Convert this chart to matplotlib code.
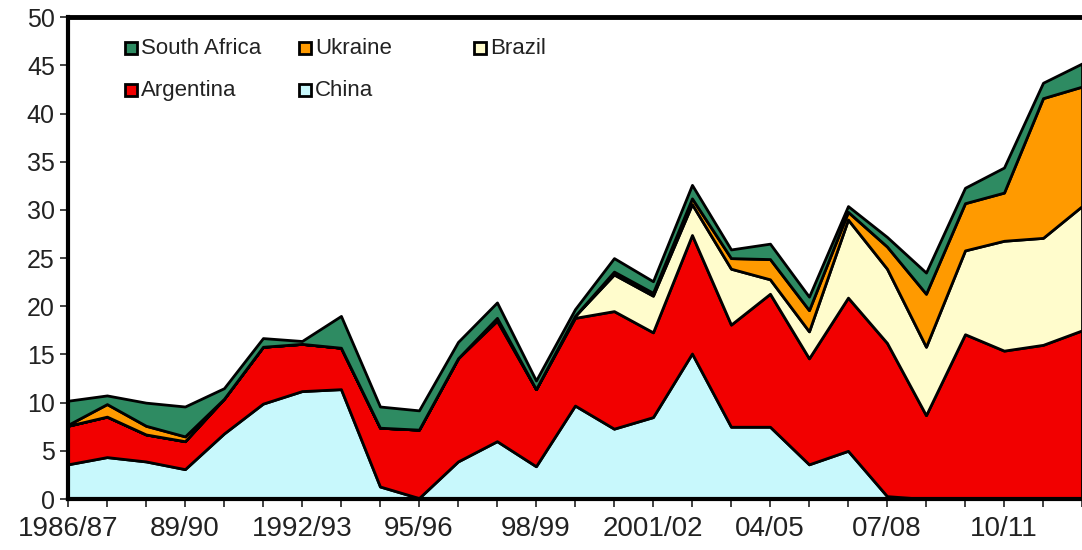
import matplotlib
matplotlib.use("Agg")
import matplotlib.pyplot as plt
from matplotlib.patches import Rectangle

plt.rcParams['font.family'] = ['Liberation Sans', 'DejaVu Sans']

# Seasons 1986/87 .. 2012/13
seasons = [f"{y}/{str(y + 1)[-2:]}" for y in range(1986, 2013)]
tick_labels = {0: "1986/87", 3: "89/90", 6: "1992/93", 9: "95/96", 12: "98/99",
               15: "2001/02", 18: "04/05", 21: "07/08", 24: "10/11"}

# values (stacked, bottom to top)
china = [3.6, 4.35, 3.9, 3.1, 6.8, 9.9, 11.2, 11.4, 1.3, 0.1, 3.9, 6.0, 3.4, 9.7,
         7.3, 8.5, 15.1, 7.5, 7.5, 3.6, 5.0, 0.3, 0, 0, 0, 0, 0]
argentina = [4.0, 4.2, 2.8, 2.9, 3.6, 5.9, 4.9, 4.3, 6.1, 7.1, 10.7, 12.5, 8.0, 9.1,
             12.2, 8.8, 12.3, 10.6, 13.8, 11.0, 15.9, 15.9, 8.7, 17.1, 15.4, 16.0, 17.5]
brazil = [0, 0, 0, 0, 0, 0, 0, 0, 0, 0, 0, 0.3, 0, 0.2,
          3.8, 3.8, 3.2, 5.8, 1.5, 2.8, 8.1, 7.7, 7.1, 8.7, 11.4, 11.1, 12.9]
ukraine = [0.1, 1.3, 0.9, 0.5, 0, 0, 0, 0, 0, 0, 0, 0, 0, 0,
           0.3, 0.3, 0.6, 1.1, 2.1, 2.2, 0.8, 2.3, 5.5, 4.9, 5.0, 14.5, 12.4]
south_africa = [2.5, 0.9, 2.4, 3.1, 1.1, 0.9, 0.3, 3.3, 2.2, 2.0, 1.7, 1.6, 0.9, 0.7,
                1.4, 1.2, 1.4, 0.9, 1.6, 1.4, 0.6, 1.0, 2.2, 1.6, 2.6, 1.6, 2.4]

names = ["China", "Argentina", "Brazil", "Ukraine", "South Africa"]
colors = ["#C8F8FC", "#F20000", "#FFFCCC", "#FF9A00", "#2E8B62"]

fig = plt.figure(figsize=(10.82, 5.5), dpi=100)
ax = fig.add_axes([0.0628, 0.0927, 0.9372, 0.876])

x = list(range(len(seasons)))
ax.stackplot(x, china, argentina, brazil, ukraine, south_africa,
             colors=colors, edgecolor="black", linewidth=2)

ax.set_xlim(0, len(seasons) - 1)
ax.set_ylim(0, 50)
ax.set_yticks(range(0, 51, 5))
ax.set_xticks(x)
ax.set_xticklabels([tick_labels.get(i, "") for i in x])
ax.tick_params(axis="both", direction="out", length=6, width=1.2,
               labelsize=18, colors="#222222")
ax.tick_params(axis="x", pad=6, labelsize=20)

for side in ["top", "left", "bottom"]:
    ax.spines[side].set_linewidth(3)
ax.spines["top"].set_linewidth(3.5)
ax.spines["right"].set_visible(False)

# legend drawn by hand so the columns sit where the original has them
def px(xp, yp):
    return (xp - 68) / 1014, (499 - yp) / 482

legend_items = [("South Africa", colors[4], 125, 48), ("Ukraine", colors[3], 299, 48),
                ("Brazil", colors[2], 474, 48), ("Argentina", colors[1], 125, 90),
                ("China", colors[0], 299, 90)]
sq_w, sq_h = 12 / 1014, 12 / 482
for label, col, xp, yp in legend_items:
    ax_x, ax_y = px(xp, yp)
    ax.add_patch(Rectangle((ax_x, ax_y - sq_h / 2), sq_w, sq_h, transform=ax.transAxes,
                           facecolor=col, edgecolor="black", linewidth=2, zorder=5))
    ax.text(ax_x + sq_w + 0.004, ax_y, label, transform=ax.transAxes,
            fontsize=16, va="center", ha="left", color="#222222", zorder=5)

fig.savefig("out.png", dpi=100)
